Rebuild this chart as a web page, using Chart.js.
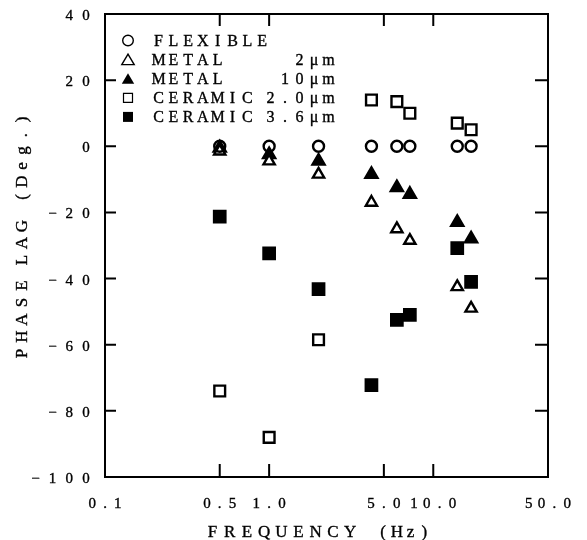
<!DOCTYPE html>
<html>
<head>
<meta charset="utf-8">
<script src="https://cdn.jsdelivr.net/npm/chart.js@4.4.1/dist/chart.umd.min.js"></script>
<style>
  html, body { margin: 0; padding: 0; background: #fff; }
  #wrap { width: 587px; height: 540px; }
</style>
</head>
<body>
<div id="wrap"><canvas id="phase" width="587" height="540"></canvas></div>
<script>
// excitation frequency (Hz), shared by every series
const freqs = [0.5, 1.0, 2.0, 4.2, 6.0, 7.2, 14, 17]

// phase lag (deg.) per bearing type
const flexible  = [0, 0, 0, 0, 0, 0, 0, 0]
const metal2    = [-1.5, -4.5, -8.5, -17, -25, -28.5, -42.5, -49]
const metal10   = [-0.5, -2.5, -4.5, -8.5, -12.5, -14.5, -23, -28]
const ceramic20 = [-74, -88, -58.5, 14, 13.5, 10, 7, 5]
const ceramic36 = [-21.3, -32.4, -43.2, -72.2, -52.5, -51, -30.8, -41]

const seriesNames = ['FLEXIBLE', 'METAL', 'METAL', 'CERAMIC', 'CERAMIC']
const seriesSizes = ['', '2 μm', '10 μm', '2.0 μm', '3.6 μm']

const xTicks = [0.1, 0.5, 1.0, 5.0, 10.0, 50.0]
const xTickLabels = ['0.1', '0.5', '1.0', '5.0', '10.0', '50.0']
const yTicks = [40, 20, 0, -20, -40, -60, -80, -100]

const SERIF = '"Liberation Serif", "DejaVu Serif", serif'
const INK = '#000'

// marker look for each series, in the same order as the names above
const MARKERS = [
  { style: 'circle',   radius: 5.5, fill: 'rgba(0,0,0,0)' },
  { style: 'triangle', radius: 6.5, fill: '#fff' },
  { style: 'triangle', radius: 7,   fill: INK },
  { style: 'rect',     radius: 7.6, fill: '#fff' },
  { style: 'rect',     radius: 8,   fill: INK },
]

const seriesValues = [flexible, metal2, metal10, ceramic20, ceramic36]

const datasets = seriesValues.map((vals, i) => ({
  label: (seriesNames[i] + ' ' + seriesSizes[i]).trim(),
  data: freqs.map((f, j) => ({ x: f, y: vals[j] })),
  pointStyle: MARKERS[i].style,
  pointRadius: MARKERS[i].radius,
  pointBorderWidth: 2.4,
  pointBorderColor: INK,
  pointBackgroundColor: MARKERS[i].fill,
  showLine: false,
}))

// typewriter-like text: each glyph centred in its own cell, spaces are half a cell
function cellSpan(text, pitch) {
  let w = 0
  const chars = [...text]
  chars.forEach((ch, i) => { if (i < chars.length - 1) w += ch === ' ' ? pitch / 2 : pitch })
  return w
}

function cells(ctx, text, x, y, pitch) {
  let cx = x
  for (const ch of text) {
    if (ch === ' ') { cx += pitch / 2; continue }
    ctx.fillText(ch, cx, y)
    ctx.strokeText(ch, cx, y) // a little extra ink, like the typed originals
    cx += pitch
  }
}

function legendMark(ctx, kind, x, y) {
  ctx.save()
  ctx.strokeStyle = INK
  ctx.fillStyle = INK
  ctx.lineWidth = 1.4
  ctx.beginPath()
  if (kind === 0) {
    ctx.arc(x, y, 5.3, 0, Math.PI * 2)
    ctx.stroke()
  } else if (kind === 1 || kind === 2) {
    ctx.moveTo(x, y - 5.5)
    ctx.lineTo(x + 6.2, y + 5)
    ctx.lineTo(x - 6.2, y + 5)
    ctx.closePath()
    kind === 2 ? ctx.fill() : ctx.stroke()
  } else if (kind === 3) {
    ctx.lineWidth = 1.2
    ctx.rect(x - 4.5, y - 4.5, 9, 9)
    ctx.stroke()
  } else {
    ctx.rect(x - 5, y - 5, 10, 10)
    ctx.fill()
  }
  ctx.restore()
}

const paperAxes = {
  id: 'paperAxes',
  afterDraw(chart) {
    const { ctx, chartArea: a } = chart
    const xs = chart.scales.x, ys = chart.scales.y
    const TICK = 12

    ctx.save()
    ctx.strokeStyle = INK
    ctx.fillStyle = INK
    ctx.lineWidth = 2
    ctx.strokeRect(a.left, a.top, a.right - a.left, a.bottom - a.top)

    // inward tick marks on all four sides
    ctx.beginPath()
    yTicks.forEach(v => {
      const py = ys.getPixelForValue(v)
      ctx.moveTo(a.left, py); ctx.lineTo(a.left + TICK - 1, py)
      ctx.moveTo(a.right, py); ctx.lineTo(a.right - TICK - 1, py)
    })
    xTicks.forEach(v => {
      const px = xs.getPixelForValue(v)
      ctx.moveTo(px, a.bottom); ctx.lineTo(px, a.bottom - TICK - 1)
      ctx.moveTo(px, a.top); ctx.lineTo(px, a.top + TICK)
    })
    ctx.stroke()

    // tick labels
    ctx.lineWidth = 0.35
    ctx.textAlign = 'center'
    ctx.textBaseline = 'alphabetic'
    ctx.font = '15px ' + SERIF
    yTicks.forEach(v => {
      const txt = String(v).replace('-', '\u2212')
      const py = ys.getPixelForValue(v)
      cells(ctx, txt, 86 - cellSpan(txt, 16.8), py + 6, 16.8)
    })
    xTicks.forEach((v, i) => {
      const txt = xTickLabels[i]
      const px = xs.getPixelForValue(v)
      cells(ctx, txt, px - cellSpan(txt, 12.8) / 2, 508, 12.8)
    })

    // axis titles
    ctx.font = '17px ' + SERIF
    cells(ctx, 'FREQUENCY', 212.5, 537, 17.2)
    cells(ctx, '(Hz)', 383, 537, 13.8)

    ctx.save()
    ctx.translate(21, 353.5)
    ctx.rotate(-Math.PI / 2)
    cells(ctx, 'PHASE LAG', 0, 5.8, 17)
    cells(ctx, '(Deg.)', 156.5, 5.8, 15.5)
    ctx.restore()

    // key
    ctx.font = '16px ' + SERIF
    seriesNames.forEach((name, i) => {
      const ry = 40.5 + i * 19.1
      legendMark(ctx, i, 128, ry)
      cells(ctx, name, 158.5, ry + 5.5, 14.8)
      const size = seriesSizes[i].replace(' ', '')
      if (size) cells(ctx, size, 328.5 - cellSpan(size, 14.5), ry + 5.5, 14.5)
    })
    ctx.restore()
  },
}

new Chart(document.getElementById('phase'), {
  type: 'scatter',
  data: { datasets },
  options: {
    responsive: false,
    animation: false,
    layout: { padding: { left: 105, right: 39, top: 14, bottom: 63 } },
    plugins: {
      legend: { display: false },
      tooltip: { enabled: false },
    },
    scales: {
      x: { type: 'logarithmic', min: 0.1, max: 50, display: false },
      y: { type: 'linear', min: -100, max: 40, display: false },
    },
  },
  plugins: [paperAxes],
})
</script>
</body>
</html>
